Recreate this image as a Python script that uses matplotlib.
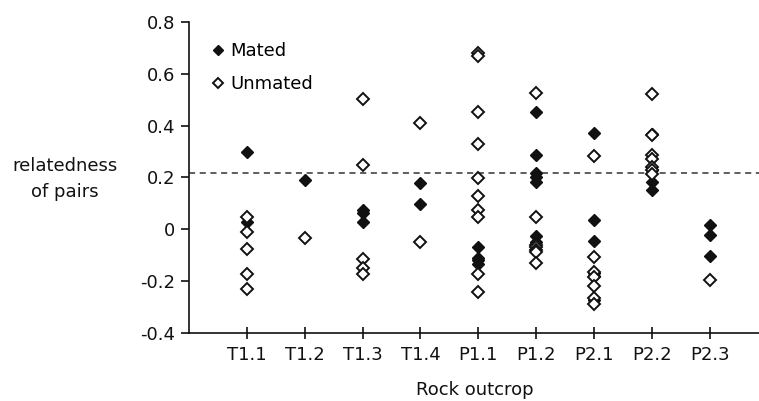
import matplotlib
matplotlib.use("Agg")
import matplotlib.pyplot as plt

plt.rcParams['font.family'] = ['DejaVu Sans']

categories = ["T1.1", "T1.2", "T1.3", "T1.4", "P1.1", "P1.2", "P2.1", "P2.2", "P2.3"]

mated = [
    [0.297, 0.028],
    [0.19],
    [0.074, 0.063, 0.028],
    [0.179, 0.099],
    [-0.071, -0.110, -0.120, -0.135],
    [0.453, 0.285, 0.218, 0.203, 0.181, -0.026, -0.049],
    [0.370, 0.035, -0.045, -0.170, -0.180, -0.275],
    [0.368, 0.23, 0.183, 0.151],
    [0.015, -0.023, -0.103],
]
unmated = [
    [0.045, -0.013, -0.077, -0.172, -0.232],
    [-0.034],
    [0.503, 0.248, -0.114, -0.149, -0.174],
    [0.409, -0.051],
    [0.680, 0.670, 0.453, 0.328, 0.196, 0.129, 0.074, 0.048, -0.172, -0.245],
    [0.528, 0.048, -0.060, -0.068, -0.080, -0.090, -0.133],
    [0.284, -0.108, -0.165, -0.185, -0.221, -0.268, -0.288],
    [0.521, 0.365, 0.286, 0.273, 0.241, 0.228, 0.213],
    [-0.195],
]
threshold = 0.218

FS = 13

fig = plt.figure(figsize=(7.59, 4.01), dpi=100)
ax = fig.add_axes([189/759, (401-332.5)/401, 1 - 189/759 + 0.002, (332.5-22.3)/401])

mx, my, ux, uy = [], [], [], []
for i, vals in enumerate(mated):
    mx += [i + 1] * len(vals)
    my += vals
for i, vals in enumerate(unmated):
    ux += [i + 1] * len(vals)
    uy += vals

ax.plot(mx, my, linestyle='none', marker='D', markersize=6.6, color='#111111',
        markeredgecolor='#111111', label='Mated', zorder=3)
ax.plot(ux, uy, linestyle='none', marker='D', markersize=6.6, markerfacecolor='white',
        markeredgecolor='#111111', markeredgewidth=1.4, label='Unmated', zorder=4)
ax.axhline(threshold, color='#333333', linestyle=(0, (4, 3)), linewidth=1.1, zorder=2)

ax.set_xlim(0, (759 - 189) / 57.7)
ax.set_ylim(-0.4, 0.8)
ax.set_xticks(range(1, len(categories) + 1))
ax.set_xticklabels(categories)
ax.set_yticks([-0.4, -0.2, 0, 0.2, 0.4, 0.6, 0.8])
ax.set_yticklabels(["-0.4", "-0.2", "0", "0.2", "0.4", "0.6", "0.8"])

for s in ['top', 'right']:
    ax.spines[s].set_visible(False)
for s in ['left', 'bottom']:
    ax.spines[s].set_linewidth(1.2)
    ax.spines[s].set_color('#111111')

ax.tick_params(axis='y', direction='out', length=6, width=1.2, labelsize=FS, pad=4, colors='#111111')
ax.tick_params(axis='x', direction='inout', length=8, width=1.2, labelsize=FS, pad=6, colors='#111111')

ax.set_xlabel("Rock outcrop", fontsize=FS, labelpad=12, color='#111111')
fig.text(65/759, 1 - 179/401, "relatedness\nof pairs", ha='center', va='center',
         fontsize=FS, color='#111111', linespacing=1.6)

leg = ax.legend(loc='upper left', bbox_to_anchor=(0.02, 0.96), frameon=False,
                fontsize=FS, handletextpad=0.05, handlelength=1.2, borderaxespad=0.0,
                labelspacing=0.85, markerscale=0.8)

fig.savefig("out.png", dpi=100)
